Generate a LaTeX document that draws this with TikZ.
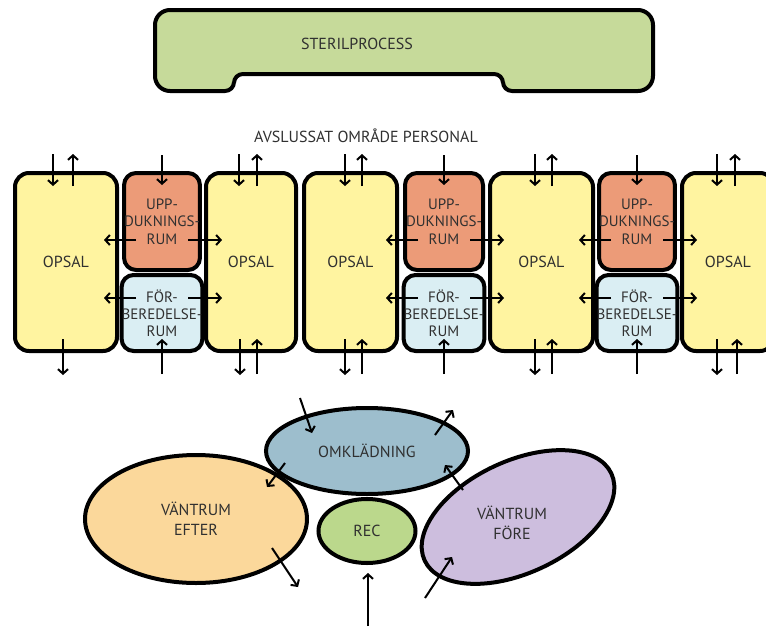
\documentclass[tikz,border=0pt]{standalone}
\usepackage{fontspec}
\setmainfont{PT Sans}
\usetikzlibrary{shapes.geometric,arrows.meta,calc}
\definecolor{sterilc}{RGB}{198,218,154}
\definecolor{opsalc}{RGB}{255,244,160}
\definecolor{uppc}{RGB}{236,155,120}
\definecolor{forc}{RGB}{218,238,243}
\definecolor{omkc}{RGB}{157,190,205}
\definecolor{vec}{RGB}{251,216,155}
\definecolor{recc}{RGB}{187,216,140}
\definecolor{vfc}{RGB}{205,190,222}
\definecolor{txtc}{RGB}{48,48,48}
\begin{document}
\begin{tikzpicture}[x=1pt,y=-1pt,
  every node/.style={font=\fontsize{16}{18}\selectfont, text=txtc},
  box/.style={draw=black, line width=4pt, rounded corners=14pt, inner sep=0pt},
  opsal/.style={box, fill=opsalc, minimum height=178pt},
  upp/.style={box, fill=uppc, rounded corners=12pt, minimum height=97pt, align=center, font=\fontsize{15}{17.5}\selectfont},
  forb/.style={box, fill=forc, rounded corners=12pt, minimum height=76pt, align=center, font=\fontsize{15}{17}\selectfont},
  ell/.style={ellipse, draw=black, line width=4pt, inner sep=0pt},
  arr/.style={line width=2pt, -{Straight Barb[length=4.5pt,width=10pt]}}]
\useasboundingbox (0,0) rectangle (766,627);
\clip (0,0) rectangle (766,627);

% Sterilprocess
\draw[line width=4pt, fill=sterilc, rounded corners=15pt]
  (155,10) -- (653,10) -- (653,91) [rounded corners=9pt] -- (503,91)
  -- (503,74) -- (234,74) -- (234,91) [rounded corners=15pt] -- (155,91) -- cycle;
\node (steril) at (357,44) {STERILPROCESS};
\node (avsl) at (366,136) {AVSLUSSAT OMRÅDE PERSONAL};

% Rooms
\node[opsal, minimum width=102pt] (o1) at (66,262) {OPSAL};
\node[opsal, minimum width=90pt] (o2) at (251,262) {OPSAL};
\node[opsal, minimum width=93pt] (o3) at (350.5,262) {OPSAL};
\node[opsal, minimum width=103pt] (o4) at (541.5,262) {OPSAL};
\node[opsal, minimum width=92pt] (o5) at (728,262) {OPSAL};

\node[upp, minimum width=72pt] (u1) at (162,221.5) {UPP-\\DUKNINGS-\\RUM};
\node[upp, minimum width=78pt] (u2) at (444,221.5) {UPP-\\DUKNINGS-\\RUM};
\node[upp, minimum width=72pt] (u3) at (637,221.5) {UPP-\\DUKNINGS-\\RUM};
\node[forb, minimum width=72pt] (f1) at (162,313) {FÖR-\\BEREDELSE-\\RUM};
\node[forb, minimum width=78pt] (f2) at (444,313) {FÖR-\\BEREDELSE-\\RUM};
\node[forb, minimum width=72pt] (f3) at (637,313) {FÖR-\\BEREDELSE-\\RUM};

% Opsal top/bottom arrows
\foreach \n/\a/\b in {o1/-13/7, o2/-12/6, o3/-5.5/11.5, o4/-6.5/10.5, o5/-11/7} {
  \draw[arr] ($(\n.north)+(\a,-17)$) -- ($(\n.north)+(\a,15)$);
  \draw[arr] ($(\n.north)+(\b,15)$) -- ($(\n.north)+(\b,-17)$);
}
\foreach \n/\a/\b in {o2/-11/6, o3/-5.5/11.5, o4/-6.5/10.5, o5/-11/9} {
  \draw[arr] ($(\n.south)+(\a,-14)$) -- ($(\n.south)+(\a,22)$);
  \draw[arr] ($(\n.south)+(\b,21)$) -- ($(\n.south)+(\b,-14)$);
}
\draw[arr] ($(o1.south)+(-3,-14)$) -- ($(o1.south)+(-3,22)$);

% Upp / for arrows
\foreach \n in {u1,u2,u3} {
  \draw[arr] ($(\n.north)+(0,-16)$) -- ($(\n.north)+(0,14)$);
  \draw[arr] ($(\n.center)+(-26,18.5)$) -- ($(\n.center)+(-58,18.5)$);
  \draw[arr] ($(\n.center)+(26,18.5)$) -- ($(\n.center)+(60,18.5)$);
}
\foreach \n in {f1,f2,f3} {
  \draw[arr] ($(\n.south)+(0,21)$) -- ($(\n.south)+(0,-14)$);
  \draw[arr] ($(\n.center)+(-26,-15)$) -- ($(\n.center)+(-58,-15)$);
  \draw[arr] ($(\n.center)+(26,-15)$) -- ($(\n.center)+(60,-15)$);
}

% Bottom ellipses
\node[ell, fill=omkc, minimum width=202pt, minimum height=86pt] (omk) at (367,451) {OMKLÄDNING};
\node[ell, fill=vec, minimum width=222pt, minimum height=128pt, align=center, font=\fontsize{16}{20}\selectfont] (ve) at (196,519) {VÄNTRUM\\EFTER};
\node[ell, fill=recc, minimum width=97pt, minimum height=64pt] (rec) at (367,531) {REC};
\node[ell, fill=vfc, rotate=25, minimum width=206pt, minimum height=112pt] (vf) at (518,517) {};
\node[align=center, font=\fontsize{16}{20}\selectfont] (vft) at (512,523) {VÄNTRUM\\FÖRE};

\draw[arr] ($(omk.center)+(-67,-53)$) -- ($(omk.center)+(-55,-18)$);
\draw[arr] ($(omk.center)+(-82,12)$) -- ($(omk.center)+(-100,36)$);
\draw[arr] ($(omk.center)+(68,-16)$) -- ($(omk.center)+(86,-41)$);
\draw[arr] ($(vf.center)+(-55,-27)$) -- ($(vf.center)+(-73,-52)$);
\draw[arr] ($(vf.center)+(-93,81)$) -- ($(vf.center)+(-66,40)$);
\draw[arr] ($(ve.center)+(76,29)$) -- ($(ve.center)+(102,68)$);
\draw[arr] ($(rec.center)+(1,95)$) -- ($(rec.center)+(1,42)$);
\end{tikzpicture}
\end{document}
